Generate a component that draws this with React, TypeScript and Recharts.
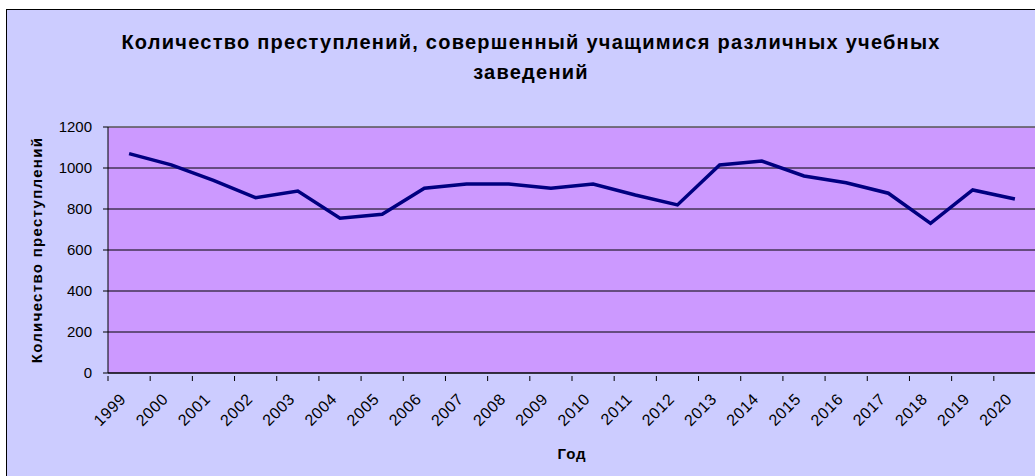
import {
    LineChart,
    Line,
    CartesianGrid,
    XAxis,
    YAxis,
    ReferenceLine,
} from 'recharts';

const years = ['1999', '2000', '2001', '2002', '2003', '2004', '2005', '2006', '2007', '2008', '2009',
    '2010', '2011', '2012', '2013', '2014', '2015', '2016', '2017', '2018', '2019', '2020'];
const crimes = [1070, 1015, 940, 855, 888, 755, 774, 901, 922, 922, 901,
    922, 868, 820, 1015, 1034, 961, 928, 877, 730, 893, 849];
const yTicks = [0, 200, 400, 600, 800, 1000, 1200];

const data = years.map((y, i) => ({ year: y, value: crimes[i] }));

const FONT = '"Liberation Sans", Arial, sans-serif';

// label at the category centre, tick mark on the category boundary (Excel style)
const YearTick = (props: any) => {
    const { x, y, payload } = props;
    const half = payload && payload.offset ? payload.offset : 21;
    const tx = x - 2;
    const ty = y + 19;
    return (
        <g>
            <line x1={x - half} y1={y - 5} x2={x - half} y2={y} stroke="#000" />
            <text
                x={tx}
                y={ty}
                textAnchor="end"
                fontSize={16}
                letterSpacing={0.6}
                fontFamily={FONT}
                fill="#000"
                transform={`rotate(-45, ${tx}, ${ty})`}
            >
                {payload.value}
            </text>
        </g>
    );
};

const App = () => {
    return (
        <div style={{ position: 'fixed', left: 0, top: 0, width: 1035, height: 476, overflow: 'hidden', background: '#fff' }}>
            <div style={{
                position: 'absolute', left: 6, top: 9, width: 1100, height: 520,
                border: '1px solid #000', background: '#CCCCFF'
            }} />
            <div style={{
                position: 'absolute', left: 0, top: 27, width: 1062, textAlign: 'center',
                fontFamily: FONT, fontWeight: 'bold', fontSize: 20, letterSpacing: 1.25,
                lineHeight: '30px', color: '#000'
            }}>
                Количество преступлений, совершенный учащимися различных учебных<br />заведений
            </div>
            <div style={{ position: 'absolute', left: 0, top: 0 }}>
                <LineChart
                    width={1040}
                    height={476}
                    data={data}
                    margin={{ top: 127, right: 4, bottom: 0, left: 0 }}
                >
                    <CartesianGrid vertical={false} fill="#CC99FF" stroke="#000" fillOpacity={1} />
                    <ReferenceLine y={1200} stroke="#808080" />
                    <XAxis
                        dataKey="year"
                        scale="band"
                        height={103}
                        interval={0}
                        tickLine={false}
                        axisLine={{ stroke: '#000' }}
                        tick={<YearTick />}
                        label={{
                            value: 'Год', position: 'insideBottom', offset: 17,
                            style: { fontFamily: FONT, fontWeight: 'bold', fontSize: 15, letterSpacing: 1, fill: '#000' }
                        }}
                    />
                    <YAxis
                        width={108}
                        domain={[0, 1200]}
                        ticks={yTicks}
                        interval={0}
                        tickSize={5}
                        tickMargin={11}
                        axisLine={{ stroke: '#000' }}
                        tickLine={{ stroke: '#000' }}
                        tick={{ fontFamily: FONT, fontSize: 15, fill: '#000' }}
                        label={{
                            value: 'Количество преступлений', angle: -90, position: 'insideLeft', offset: 37,
                            style: { textAnchor: 'middle', fontFamily: FONT, fontWeight: 'bold', fontSize: 15, letterSpacing: 1.3, fill: '#000' }
                        }}
                    />
                    <Line
                        type="linear"
                        dataKey="value"
                        stroke="#000080"
                        strokeWidth={3.5}
                        dot={false}
                        isAnimationActive={false}
                    />
                </LineChart>
            </div>
        </div>
    );
};

export default App;
